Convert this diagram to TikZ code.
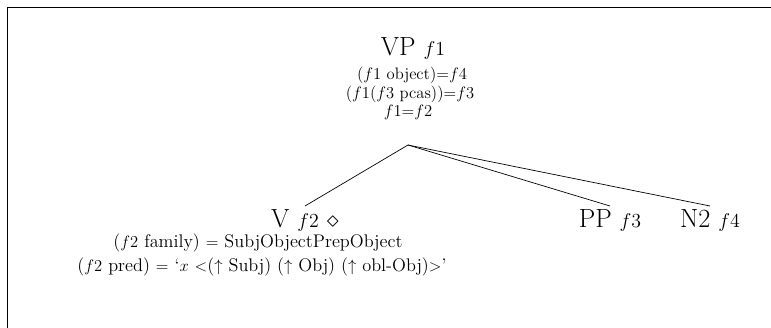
\documentclass[tikz,border=0pt]{standalone}
\usepackage{amsmath,amssymb}
\usepackage{tikz}
\usetikzlibrary{positioning}

\newcommand{\fvar}[1]{{\fontsize{15}{18}\selectfont$#1$}}

\begin{document}
\begin{tikzpicture}[
  x=0.0254cm, y=-0.0254cm,
  font=\fontsize{13.2}{16}\selectfont,
  cat/.style={anchor=base, inner sep=2pt, font=\fontsize{19}{22}\selectfont},
  eqn/.style={anchor=base, inner sep=1pt},
  topeqn/.style={eqn, font=\fontsize{12}{14}\selectfont},
  branch/.style={line width=0.5pt}
]
\useasboundingbox (0,0) rectangle (771,328);
\draw[line width=1.4pt] (7.5,328) -- (7.5,7.5) -- (771,7.5);

% mother node and its equations
\node[cat] (vp) at (413,56) {VP \fvar{f1}};
\node[topeqn] (vpobj) at (412,80) {($f1$ object)=$f4$};
\node[topeqn] (vppcas) at (410,98.5) {($f1$($f3$ pcas))=$f3$};
\node[topeqn] (vpeq) at (408,117) {$f1$=$f2$};
\coordinate (vpfoot) at (408,145);

% daughters
\node[cat] (v) at (305,227) {V \fvar{f2} $\diamond$};
\node[cat] (pp) at (610,227) {PP \fvar{f3}};
\node[cat] (ntwo) at (710,227) {N2 \fvar{f4}};
\node[eqn] (vfam) at (258,247) {($f2$ family) $=$ SubjObjectPrepObject};
\node[eqn] (vpred) at (262,271) {($f2$ pred) $=$ `$x$ $<$($\uparrow$ Subj) ($\uparrow$ Obj) ($\uparrow$ obl-Obj)$>$'};

\draw[branch] (vpfoot) -- (v.north);
\draw[branch] (vpfoot) -- (pp.north);
\draw[branch] (vpfoot) -- (ntwo.north);
\end{tikzpicture}
\end{document}
